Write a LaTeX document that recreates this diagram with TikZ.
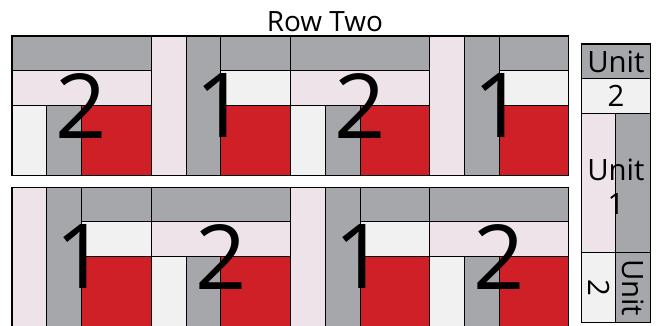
\documentclass[tikz,border=0pt]{standalone}
\usepackage{fontspec}
\setmainfont{Open Sans}
\usepackage{tikz}
\definecolor{BarGray}{RGB}{166,167,171}
\definecolor{BarPink}{RGB}{239,227,234}
\definecolor{BarWhite}{RGB}{241,241,241}
\definecolor{BarRed}{RGB}{208,32,39}
\newcommand{\patch}[5]{%
  \filldraw[fill=#5,draw=black,line width=0.5pt] (#1,#2) rectangle ++(#3,#4);}
\newcommand{\unitone}[3]{%
  \patch{#1}{#2}{1}{-4}{BarPink}
  \patch{#1+1}{#2}{1}{-4}{BarGray}
  \patch{#1+2}{#2}{2}{-1}{BarGray}
  \patch{#1+2}{#2-1}{2}{-1}{BarWhite}
  \patch{#1+2}{#2-2}{2}{-2}{BarRed}
  \node[bignum] (#3) at (#1+2,#2-2) {1};}
\newcommand{\unittwo}[3]{%
  \patch{#1}{#2}{4}{-1}{BarGray}
  \patch{#1}{#2-1}{4}{-1}{BarPink}
  \patch{#1}{#2-2}{1}{-2}{BarWhite}
  \patch{#1+1}{#2-2}{1}{-2}{BarGray}
  \patch{#1+2}{#2-2}{2}{-2}{BarRed}
  \node[bignum] (#3) at (#1+2,#2-2) {2};}

\begin{document}
\begin{tikzpicture}[x=0.6cm,y=0.6cm,
  bignum/.style={inner sep=0pt,font=\fontsize{44}{44}\selectfont},
  keytext/.style={inner sep=0pt,align=center,font=\fontsize{14.4}{16.6}\selectfont}]
  \useasboundingbox (-0.345,1.034) rectangle (18.53,-8.305);
  \node[anchor=base,inner sep=0pt,font=\fontsize{13.7}{16}\selectfont] (title) at (8.99,0.124) {Row Two};
  % top row
  \unittwo{0}{0}{topa}
  \unitone{4}{0}{topb}
  \unittwo{8}{0}{topc}
  \unitone{12}{0}{topd}
  % bottom row
  \unitone{0}{-4.34}{bota}
  \unittwo{4}{-4.34}{botb}
  \unitone{8}{-4.34}{botc}
  \unittwo{12}{-4.34}{botd}
  % key strip
  \patch{16.35}{-0.23}{2}{-1}{BarGray}
  \patch{16.35}{-1.23}{2}{-1}{BarWhite}
  \patch{16.35}{-2.23}{1}{-4}{BarPink}
  \patch{17.35}{-2.23}{1}{-4}{BarGray}
  \patch{16.35}{-6.23}{1}{-2}{BarWhite}
  \patch{17.35}{-6.23}{1}{-2}{BarGray}
  \node[keytext] (keytwo) at (17.35,-1.23) {Unit\\2};
  \node[keytext] (keyone) at (17.35,-4.32) {Unit\\1};
  \node[keytext,rotate=-90] (keyside) at (17.35,-7.23) {Unit\\2};
\end{tikzpicture}
\end{document}
